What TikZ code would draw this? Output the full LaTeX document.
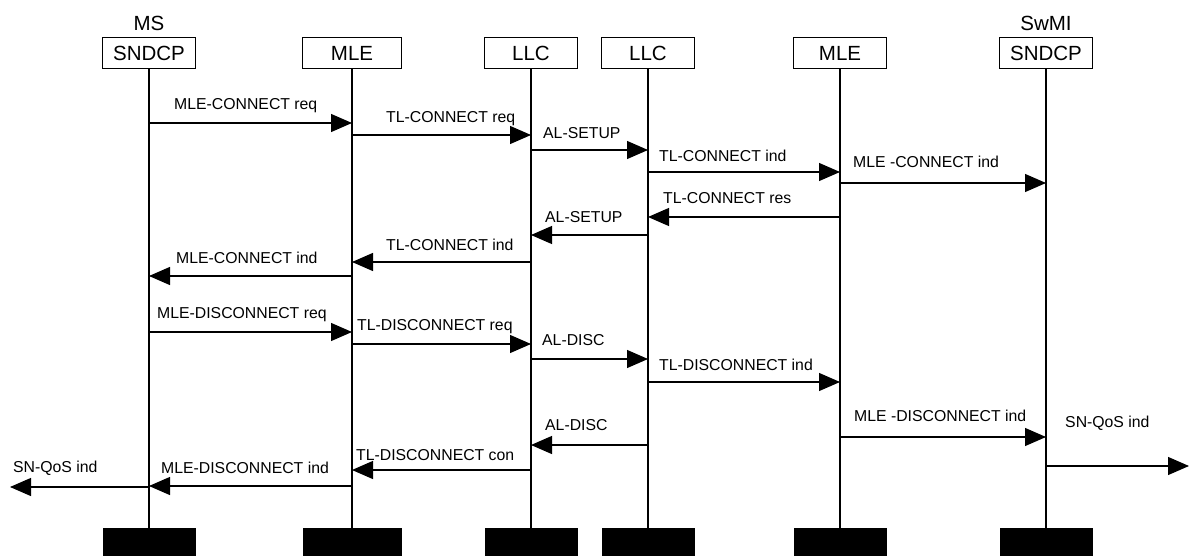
\documentclass[tikz,border=0pt]{standalone}
\usepackage{fontspec}
\setmainfont{Liberation Sans}
\usetikzlibrary{arrows.meta}
\begin{document}
\begin{tikzpicture}[x=1pt,y=-1pt,
  entity/.style={draw, line width=1pt, minimum height=31pt, inner sep=0pt,
    font=\fontsize{20.5}{24}\selectfont},
  endbar/.style={fill=black, minimum height=28pt, inner sep=0pt},
  lifeline/.style={line width=1.2pt},
  msg/.style={line width=1.2pt, -{Triangle[length=21pt,width=18pt]}},
  lbl/.style={anchor=west, inner sep=0pt, font=\fontsize{15.8}{18}\selectfont}]

  \useasboundingbox (0,0) rectangle (1189,556);

  % layer boxes on top, black bars at the bottom
  \foreach \n/\x/\w/\t in {ms/149/93/SNDCP, mlea/352/99/MLE, llca/531/93/LLC,
    llcb/648/93/LLC, mleb/840/93/MLE, swmi/1046/93/SNDCP}
  {
    \node[entity, minimum width=\w pt] (\n) at (\x,53.5) {\t};
    \node[endbar, minimum width=\w pt] (e\n) at (\x,542) {};
    \draw[lifeline] (\n.south) -- (e\n.north);
  }
  \node[font=\fontsize{20.5}{24}\selectfont] (mstitle) at (149,23) {MS};
  \node[font=\fontsize{20.5}{24}\selectfont] (swmititle) at (1046,23) {SwMI};

  % free ends of the SN-QoS primitives
  \coordinate (qosl) at (10,487);
  \coordinate (qosr) at (1189,466);

  % primitives: from/to/arrow y/label x/label y/text
  \foreach \a/\b/\y/\lx/\ly/\t [count=\i] in
  {ms/mlea/123/174/106/MLE-CONNECT req,
    mlea/llca/135/386/119/TL-CONNECT req,
    llca/llcb/150/543/133/AL-SETUP,
    llcb/mleb/172/659/156/TL-CONNECT ind,
    mleb/swmi/183/853/162/MLE -CONNECT ind,
    mleb/llcb/217/663/198/TL-CONNECT res,
    llcb/llca/235/545/217/AL-SETUP,
    llca/mlea/262/386/245/TL-CONNECT ind,
    mlea/ms/276/176/258/MLE-CONNECT ind,
    ms/mlea/332/157/315/MLE-DISCONNECT req,
    mlea/llca/344/357/327/TL-DISCONNECT req,
    llca/llcb/359/542/340/AL-DISC,
    llcb/mleb/382/659/365/TL-DISCONNECT ind,
    mleb/swmi/437/854/416/MLE -DISCONNECT ind,
    swmi/qosr/466/1065/423/SN-QoS ind,
    llcb/llca/445/545/425/AL-DISC,
    llca/mlea/470/356/455/TL-DISCONNECT con,
    mlea/ms/486/161/468/MLE-DISCONNECT ind,
    ms/qosl/487/13/468/SN-QoS ind}
  {
    \draw[msg] (\a |- 0,\y) -- (\b |- 0,\y);
    \node[lbl] (lab\i) at (\lx,\ly) {\t};
  }

\end{tikzpicture}
\end{document}
